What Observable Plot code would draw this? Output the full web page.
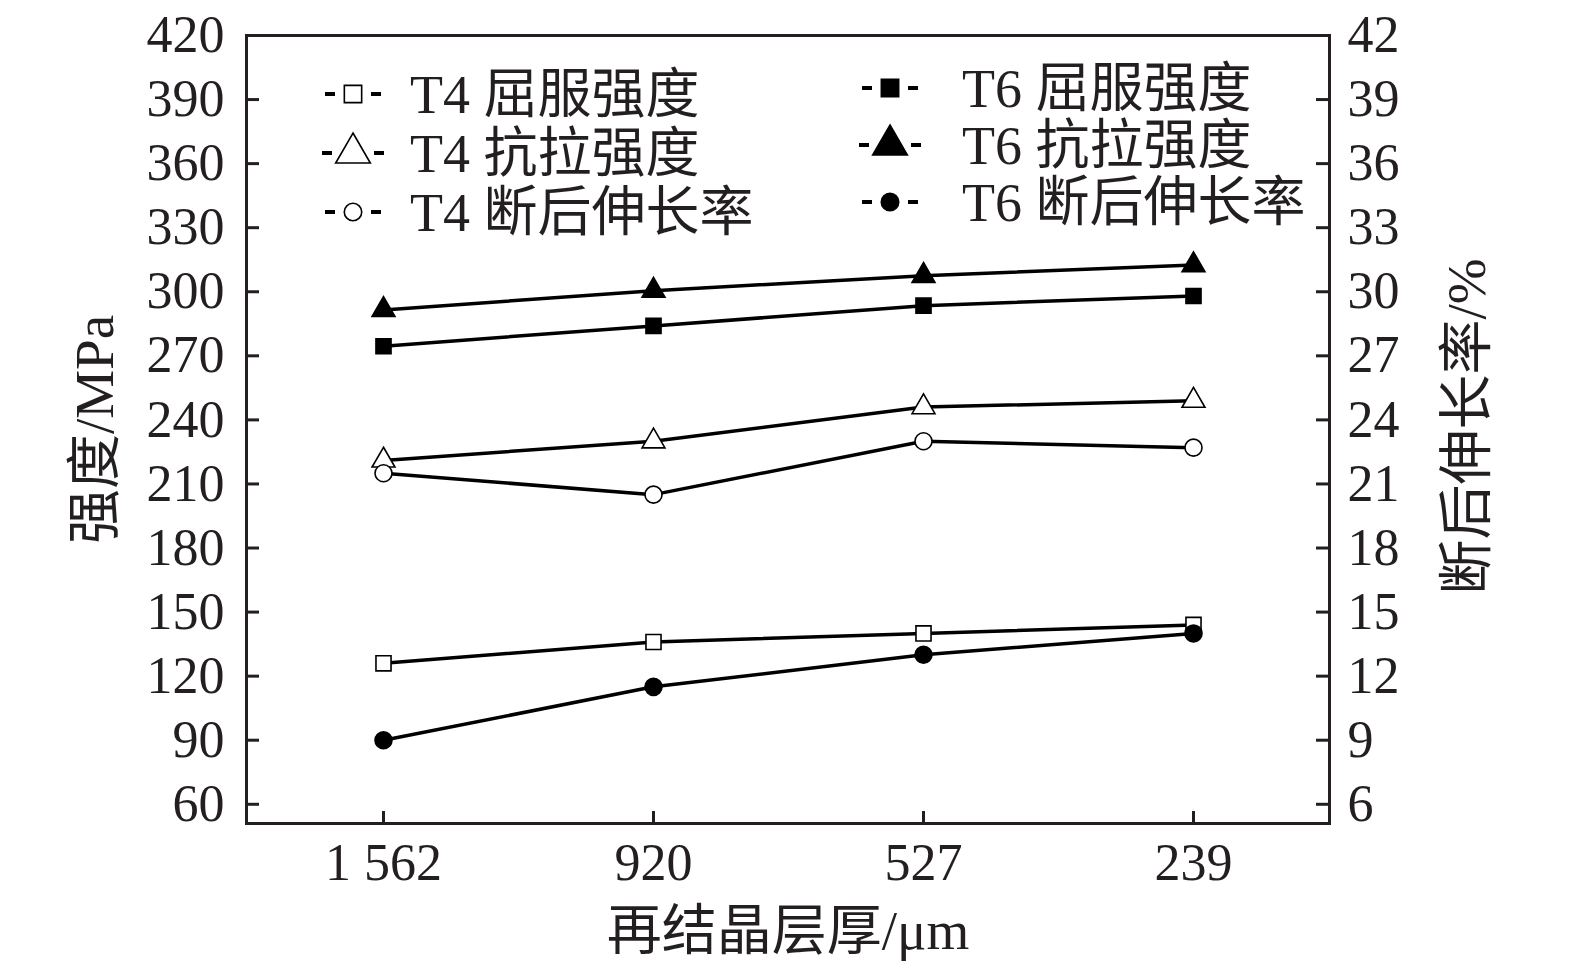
<!DOCTYPE html>
<html><head><meta charset="utf-8">
<script src="https://cdn.jsdelivr.net/npm/d3@7"></script>
<script src="https://cdn.jsdelivr.net/npm/@observablehq/plot@0.6"></script>
<style>body{margin:0;background:#fff;} #chart{width:1575px;height:972px;}</style>
</head><body><div id="chart"></div>
<script>
// ---- data ----
const categories = ["1 562", "920", "527", "239"];
const t4Yield    = [126, 136, 140, 144];
const t4Tensile  = [221, 230, 246, 249];
const t4Elong    = [21.5, 20.5, 23.0, 22.7];
const t6Yield    = [274.5, 284, 293.5, 298];
const t6Tensile  = [291.5, 300.5, 307.5, 312.5];
const t6Elong    = [9.0, 11.5, 13.0, 14.0];
const leftTicks  = [60, 90, 120, 150, 180, 210, 240, 270, 300, 330, 360, 390, 420];
const rightTicks = [6, 9, 12, 15, 18, 21, 24, 27, 30, 33, 36, 39, 42];
const seriesNames = ["T4 屈服强度", "T4 抗拉强度", "T4 断后伸长率", "T6 屈服强度", "T6 抗拉强度", "T6 断后伸长率"];
const xTitle = "再结晶层厚/μm";
const yLeftTitle = "强度/MPa";
const yRightTitle = "断后伸长率/%";

// ---- layout / style ----
const W = 1575, H = 972, mL = 246, mR = 246, mT = 35, mB = 149;
const innerW = W - mL - mR, innerH = H - mT - mB;
const RIGHT_FACTOR = 10; // right axis 6..42 maps onto left 60..420
const FONT = '"Liberation Serif","Times New Roman","Noto Sans CJK SC",serif';
const INK = "#231f20";

const seriesDefs = [
  {name: seriesNames[0], values: t4Yield,   axis: "left",  symbol: "square",   filled: false},
  {name: seriesNames[1], values: t4Tensile, axis: "left",  symbol: "triangle", filled: false},
  {name: seriesNames[2], values: t4Elong,   axis: "right", symbol: "circle",   filled: false},
  {name: seriesNames[3], values: t6Yield,   axis: "left",  symbol: "square",   filled: true},
  {name: seriesNames[4], values: t6Tensile, axis: "left",  symbol: "triangle", filled: true},
  {name: seriesNames[5], values: t6Elong,   axis: "right", symbol: "circle",   filled: true}
];
const rows = seriesDefs.flatMap(s => s.values.map((v, i) => ({
  series: s.name, cat: categories[i], value: v,
  yv: s.axis === "right" ? v * RIGHT_FACTOR : v,
  symbol: s.symbol, filled: s.filled
})));

const plot = Plot.plot({
  width: W, height: H,
  marginLeft: mL, marginRight: mR, marginTop: mT, marginBottom: mB,
  x: {type: "point", domain: categories, padding: 0.5},
  y: {domain: [51, 420]},
  style: {fontFamily: FONT, fontSize: "52px", color: INK, background: "#fff", overflow: "visible"},
  marks: [
    Plot.frame({stroke: INK, strokeWidth: 3}),
    // inward ticks
    Plot.tickY(leftTicks, {y: d => d, stroke: INK, strokeWidth: 3, insetRight: innerW - 13}),
    Plot.tickY(rightTicks, {y: d => d * RIGHT_FACTOR, stroke: INK, strokeWidth: 3, insetLeft: innerW - 13}),
    Plot.tickX(categories, {x: d => d, stroke: INK, strokeWidth: 3, insetTop: innerH - 12}),
    // tick labels
    Plot.axisY(leftTicks, {anchor: "left", tickSize: 0, tickPadding: 22, label: null, fontSize: 52, fill: INK}),
    Plot.axisY(rightTicks.map(d => d * RIGHT_FACTOR), {anchor: "right", tickSize: 0, tickPadding: 18, label: null, fontSize: 52, fill: INK, tickFormat: d => String(d / RIGHT_FACTOR)}),
    Plot.axisX(categories, {anchor: "bottom", tickSize: 0, tickPadding: 20, label: null, fontSize: 52, fill: INK}),
    // axis titles
    Plot.text([yLeftTitle], {text: d => d, frameAnchor: "left", textAnchor: "middle", lineAnchor: "middle", dx: -151, rotate: -90, fontSize: 55, fill: INK}),
    Plot.text([yRightTitle], {text: d => d, frameAnchor: "right", textAnchor: "middle", lineAnchor: "middle", dx: 138, dy: -3, rotate: -90, fontSize: 55, fill: INK}),
    Plot.text([xTitle], {text: d => d, frameAnchor: "bottom", textAnchor: "middle", lineAnchor: "middle", dy: 108, fontSize: 55, fill: INK}),
    // series
    Plot.line(rows, {x: "cat", y: "yv", z: "series", stroke: "#000", strokeWidth: 3.5}),
    Plot.dot(rows, {x: "cat", y: "yv", symbol: "symbol", r: 8.5,
      fill: d => d.filled ? "#000" : "#fff", stroke: "#000", strokeWidth: 1.6})
  ]
});

// ---- legend (drawn into the same svg) ----
const svg = d3.select(plot);
const legendCols = [
  {symX: 353, textX: 410, rowY: [94, 153, 212]},
  {symX: 890, textX: 962, rowY: [88, 145, 202]}
];
seriesDefs.forEach((s, i) => {
  const col = legendCols[i < 3 ? 0 : 1];
  const y = col.rowY[i % 3];
  const g = svg.append("g").attr("transform", `translate(${col.symX},${y})`);
  const half = s.symbol === "triangle" ? 21 : 18;
  g.append("line").attr("x1", -half - 10).attr("x2", -half).attr("stroke", "#000").attr("stroke-width", 4);
  g.append("line").attr("x1", half).attr("x2", half + 10).attr("stroke", "#000").attr("stroke-width", 4);
  const sym = s.symbol === "square" ? d3.symbolSquare : s.symbol === "triangle" ? d3.symbolTriangle : d3.symbolCircle;
  const size = s.symbol === "triangle" ? 520 : s.symbol === "square" ? 300 : 240;
  g.append("path").attr("d", d3.symbol(sym, size)())
    .attr("fill", s.filled ? "#000" : "#fff").attr("stroke", "#000").attr("stroke-width", 1.6);
  svg.append("text").attr("x", col.textX).attr("y", y)
    .attr("dy", "0.36em").attr("text-anchor", "start")
    .attr("font-family", FONT).attr("font-size", 54).attr("fill", INK)
    .text(s.name);
});

document.getElementById("chart").appendChild(plot);
</script>
</body></html>
